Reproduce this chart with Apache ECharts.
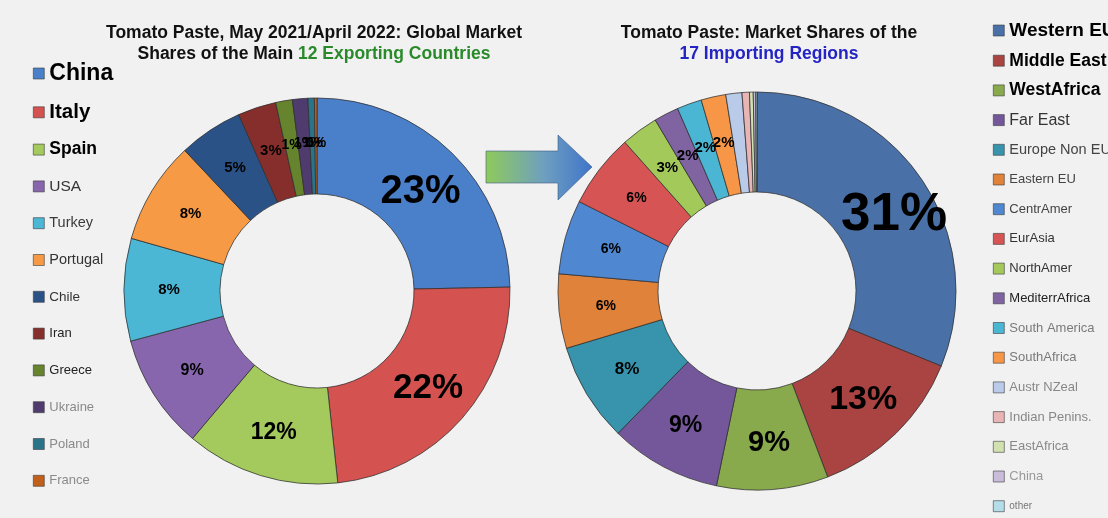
<!DOCTYPE html>
<html>
<head>
<meta charset="utf-8">
<script src="https://cdn.jsdelivr.net/npm/echarts@6/dist/echarts.min.js"></script>
<style>
  html, body { margin: 0; padding: 0; background: #f1f1f1; }
  #chart { width: 1108px; height: 518px; }
</style>
</head>
<body>
<div id="chart"></div>
<script>
// Exporting countries: share of world tomato paste exports, May 2021 - April 2022 (%)
const exporterNames = ['China', 'Italy', 'Spain', 'USA', 'Turkey', 'Portugal', 'Chile', 'Iran', 'Greece', 'Ukraine', 'Poland', 'France'];
const exporterShares = [23, 22, 12, 9, 8, 8, 5, 3, 1.3, 1.2, 0.5, 0.2];

// Importing regions: share of world tomato paste imports (%)
const importerNames = ['Western EU', 'Middle East', 'WestAfrica', 'Far East', 'Europe Non EU', 'Eastern EU', 'CentrAmer', 'EurAsia', 'NorthAmer', 'MediterrAfrica', 'South America', 'SouthAfrica', 'Austr NZeal', 'Indian Penins.', 'EastAfrica', 'China', 'other'];
const importerShares = [31, 13, 9, 9, 8, 6, 6, 6, 3, 2, 2, 2, 1.3, 0.6, 0.3, 0.2, 0.1];

// ---- styling ----
const exporterColors = ['#4a7fc9', '#d4524f', '#a4c95c', '#8766ae', '#4cb7d5', '#f79a45', '#2b5286', '#862e2b', '#66832e', '#4f3b6e', '#2a7489', '#c0601a'];
const importerColors = ['#4a71a7', '#a94442', '#88a94c', '#73579a', '#3894ac', '#e0823a', '#4f87d1', '#d65554', '#a3c95b', '#8064a2', '#4bb6d4', '#f79646', '#b9cbe8', '#e8b4b4', '#d1e2b0', '#c9bcdb', '#b4ddea'];

const exporterLabelSize = [40, 35, 23, 16, 15, 15, 15, 15, 14, 14, 14, 14];
const importerLabelSize = [53, 34, 29, 23, 17, 14, 14, 14, 15, 15, 15, 15, 0, 0, 0, 0, 0];
// nudges for the two largest labels
const labelNudge = { 'Exporters:China': [0, 7], 'Importers:Western EU': [11, 9] };

const exporterLegendText = [
  { fontSize: 23, fontWeight: 'bold', color: '#000' },
  { fontSize: 20.5, fontWeight: 'bold', color: '#000' },
  { fontSize: 17.5, fontWeight: 'bold', color: '#000' },
  { fontSize: 15.5, color: '#333' },
  { fontSize: 14.5, color: '#3a3a3a' },
  { fontSize: 14.5, color: '#333' },
  { fontSize: 13.5, color: '#333' },
  { fontSize: 13, color: '#222' },
  { fontSize: 13, color: '#222' },
  { fontSize: 13, color: '#8a8a8a' },
  { fontSize: 13, color: '#8a8a8a' },
  { fontSize: 13, color: '#8a8a8a' }
];
const importerLegendText = [
  { fontSize: 19, fontWeight: 'bold', color: '#000' },
  { fontSize: 17.5, fontWeight: 'bold', color: '#000' },
  { fontSize: 17.5, fontWeight: 'bold', color: '#000' },
  { fontSize: 16, color: '#333' },
  { fontSize: 14.5, color: '#444' },
  { fontSize: 13, color: '#444' },
  { fontSize: 13, color: '#444' },
  { fontSize: 13, color: '#333' },
  { fontSize: 13, color: '#333' },
  { fontSize: 13, color: '#222' },
  { fontSize: 13, color: '#7a7a7a' },
  { fontSize: 13, color: '#7a7a7a' },
  { fontSize: 13, color: '#888' },
  { fontSize: 13, color: '#888' },
  { fontSize: 13, color: '#888' },
  { fontSize: 13, color: '#999' },
  { fontSize: 10, color: '#777' }
];

const FONT = '"Liberation Sans", Arial, sans-serif';
const pct = v => Math.round(v) + '%';

function pieData(series, names, values, colors, sizes) {
  return names.map((name, i) => {
    const label = sizes[i] > 0 ? { show: true, fontSize: sizes[i] } : { show: false };
    const nudge = labelNudge[series + ':' + name];
    if (nudge) label.offset = nudge;
    return { name: name, value: values[i], itemStyle: { color: colors[i] }, label: label };
  });
}

function legendData(names, colors, texts, lineHeight) {
  return names.map((name, i) => ({
    name: name,
    itemStyle: { color: colors[i], borderColor: '#3a3a3a', borderWidth: 0.6 },
    textStyle: Object.assign({ lineHeight: lineHeight, fontFamily: FONT }, texts[i])
  }));
}

const sliceStyle = { borderColor: 'rgba(45,45,45,0.75)', borderWidth: 1 };
const sliceLabel = {
  position: 'inside',
  color: '#000',
  fontWeight: 'bold',
  fontFamily: FONT,
  formatter: p => pct(p.value)
};

const chart = echarts.init(document.getElementById('chart'), null, { renderer: 'canvas' });

chart.setOption({
  backgroundColor: '#f1f1f1',
  animation: false,
  title: [
    {
      left: 309, top: 18, textAlign: 'center',
      text: '{a|Tomato Paste, May 2021/April 2022: Global Market}\n{a|Shares of the Main }{g|12 Exporting Countries}',
      textStyle: {
        rich: {
          a: { fontFamily: FONT, fontSize: 17.5, fontWeight: 'bold', color: '#111', lineHeight: 21 },
          g: { fontFamily: FONT, fontSize: 17.5, fontWeight: 'bold', color: '#2a8a2a', lineHeight: 21 }
        }
      }
    },
    {
      left: 764, top: 18, textAlign: 'center',
      text: '{a|Tomato Paste: Market Shares of the}\n{b|17 Importing Regions}',
      textStyle: {
        rich: {
          a: { fontFamily: FONT, fontSize: 17.5, fontWeight: 'bold', color: '#111', lineHeight: 21 },
          b: { fontFamily: FONT, fontSize: 17.5, fontWeight: 'bold', color: '#2424c4', lineHeight: 21 }
        }
      }
    }
  ],
  legend: [
    {
      orient: 'vertical', left: 33, top: 62, padding: 0,
      icon: 'rect', itemWidth: 11, itemHeight: 11, itemGap: 16.8,
      selectedMode: false,
      data: legendData(exporterNames, exporterColors, exporterLegendText, 20)
    },
    {
      orient: 'vertical', left: 993, top: 21, padding: 0,
      icon: 'rect', itemWidth: 11, itemHeight: 11, itemGap: 11.7,
      selectedMode: false,
      data: legendData(importerNames, importerColors, importerLegendText, 18)
    }
  ],
  graphic: [
    {
      // arrow linking exporters to importers
      type: 'polygon',
      shape: {
        points: [[486, 151], [558, 151], [558, 135], [592, 167], [558, 200], [558, 183], [486, 183]]
      },
      style: {
        fill: new echarts.graphic.LinearGradient(0, 0, 1, 0, [
          { offset: 0, color: '#8fcb5a' },
          { offset: 0.55, color: '#6e9fc0' },
          { offset: 1, color: '#3f74c9' }
        ]),
        stroke: 'rgba(60,90,130,0.6)',
        lineWidth: 1
      }
    }
  ],
  series: [
    {
      name: 'Exporters',
      type: 'pie',
      center: [317, 291],
      radius: [97, 193],
      startAngle: 90,
      clockwise: true,
      avoidLabelOverlap: false,
      labelLayout: { hideOverlap: false },
      itemStyle: sliceStyle,
      label: sliceLabel,
      labelLine: { show: false },
      emphasis: { disabled: true },
      data: pieData('Exporters', exporterNames, exporterShares, exporterColors, exporterLabelSize)
    },
    {
      name: 'Importers',
      type: 'pie',
      center: [757, 291],
      radius: [99, 199],
      startAngle: 90,
      clockwise: true,
      avoidLabelOverlap: false,
      labelLayout: { hideOverlap: false },
      itemStyle: sliceStyle,
      label: sliceLabel,
      labelLine: { show: false },
      emphasis: { disabled: true },
      data: pieData('Importers', importerNames, importerShares, importerColors, importerLabelSize)
    }
  ]
});
</script>
</body>
</html>
